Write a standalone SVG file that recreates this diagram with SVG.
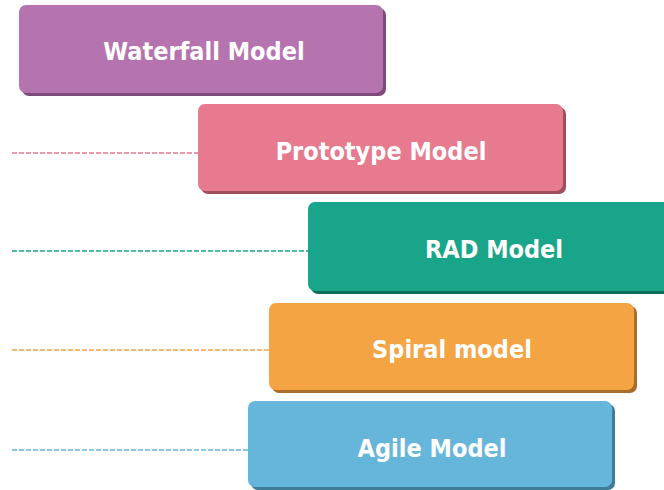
<svg xmlns="http://www.w3.org/2000/svg" width="664" height="490" viewBox="0 0 664 490">
  <style>
    .lbl { font-family: "DejaVu Sans Condensed", "Liberation Sans", sans-serif; font-weight: bold; font-size: 25px; fill: #ffffff; text-anchor: middle; }
    .dash { fill: none; stroke-width: 1.5; stroke-dasharray: 5 2; }
  </style>
  <rect width="664" height="490" fill="#ffffff"/>

  <!-- dashed connectors running off the left edge -->
  <g id="connectors">
    <line class="dash" x1="12" y1="153" x2="198" y2="153" stroke="#E77A8E"/>
    <line class="dash" x1="12" y1="251" x2="308" y2="251" stroke="#18A589"/>
    <line class="dash" x1="12" y1="350" x2="269" y2="350" stroke="#F5A443"/>
    <line class="dash" x1="12" y1="450" x2="248" y2="450" stroke="#66B6DB"/>
  </g>

  <g id="waterfall">
    <rect x="22" y="8" width="364" height="88" rx="7" fill="#7D4C7A"/>
    <rect x="19" y="5" width="364" height="88" rx="7" fill="#B574B0"/>
    <text class="lbl" x="204" y="60">Waterfall Model</text>
  </g>

  <g id="prototype">
    <rect x="201" y="107" width="365" height="87" rx="7" fill="#9E4E5D"/>
    <rect x="198" y="104" width="365" height="87" rx="7" fill="#E77A8E"/>
    <text class="lbl" x="381" y="160">Prototype Model</text>
  </g>

  <g id="rad">
    <rect x="311" y="205" width="380" height="89" rx="7" fill="#0F6E5B"/>
    <rect x="308" y="202" width="380" height="89" rx="7" fill="#18A589"/>
    <text class="lbl" x="494" y="258">RAD Model</text>
  </g>

  <g id="spiral">
    <rect x="272" y="306" width="365" height="87" rx="7" fill="#A86D28"/>
    <rect x="269" y="303" width="365" height="87" rx="7" fill="#F5A443"/>
    <text class="lbl" x="452" y="358">Spiral model</text>
  </g>

  <g id="agile">
    <rect x="251" y="404" width="364" height="86" rx="7" fill="#3F7C98"/>
    <rect x="248" y="401" width="364" height="86" rx="7" fill="#66B6DB"/>
    <text class="lbl" x="432" y="457">Agile Model</text>
  </g>
</svg>
